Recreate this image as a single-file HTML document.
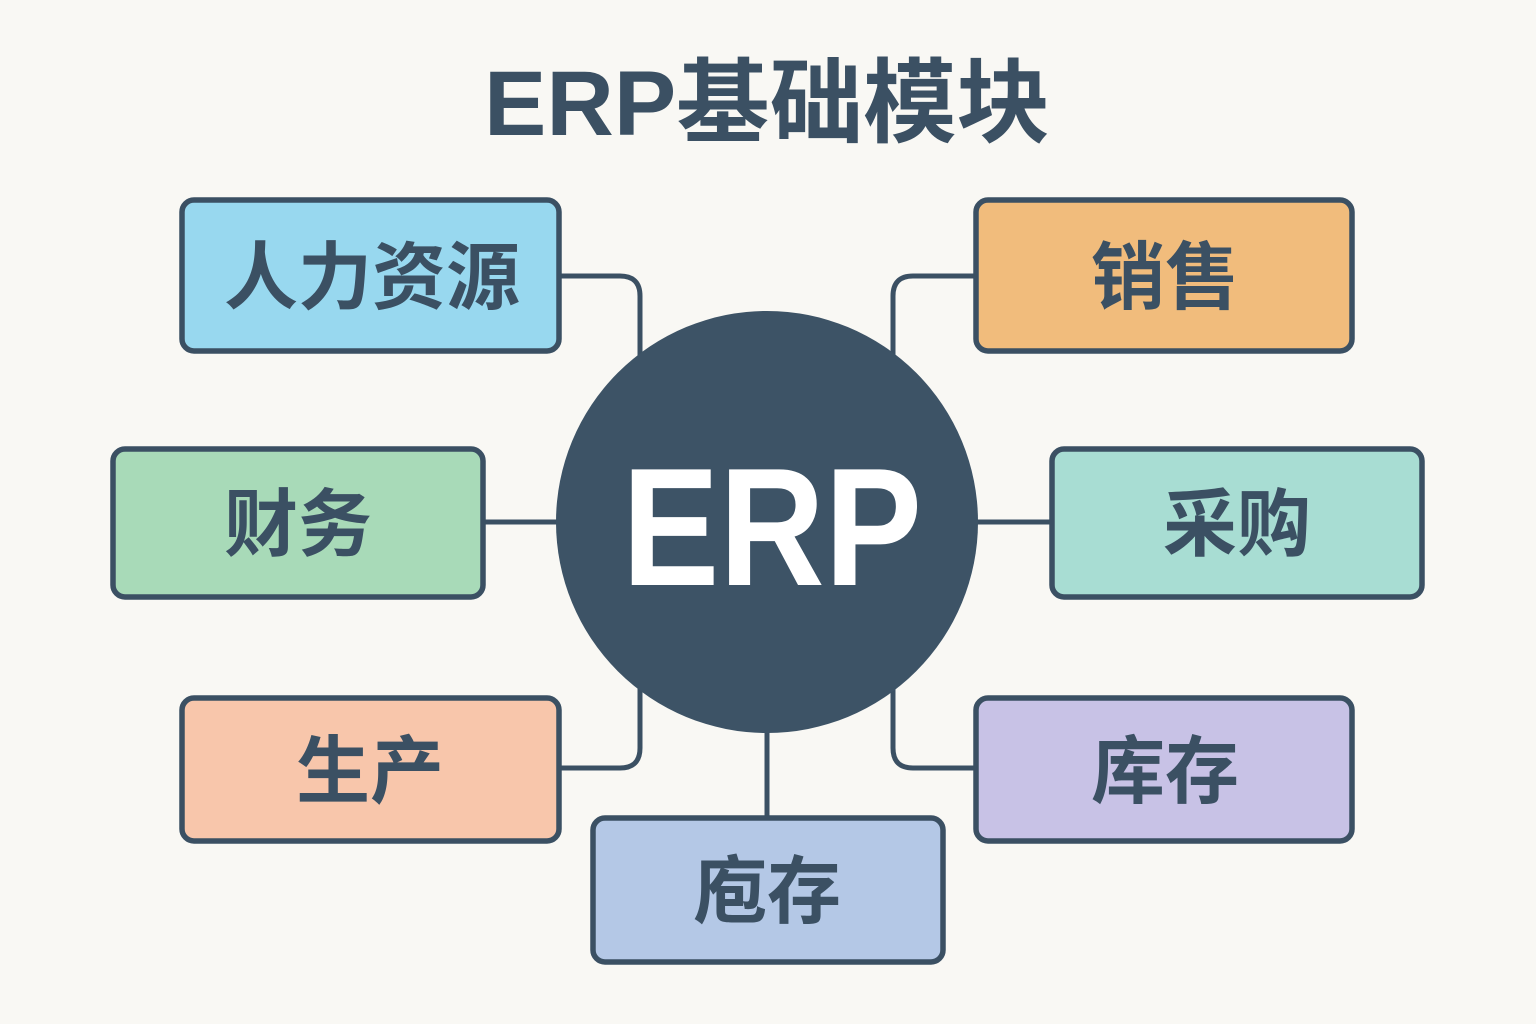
<!DOCTYPE html>
<html><head><meta charset="utf-8"><style>
html,body{margin:0;padding:0;background:#f9f8f4;}
svg{display:block}
text{font-family:"Liberation Sans","Noto Sans CJK SC",sans-serif;font-weight:bold;}
</style></head><body>
<svg width="1536" height="1024" viewBox="0 0 1536 1024" xmlns="http://www.w3.org/2000/svg">
<rect width="1536" height="1024" fill="#f9f8f4"/>
<text x="767" y="135" font-size="92" fill="#3b5063" text-anchor="middle" textLength="566" lengthAdjust="spacingAndGlyphs">ERP基础模块</text>
<g fill="none" stroke="#3b5063" stroke-width="5">
<path d="M560 276 H620 Q640 276 640 296 V360"/>
<path d="M975 276 H913 Q893 276 893 296 V360"/>
<path d="M484 522 H560"/>
<path d="M975 522 H1051"/>
<path d="M560 768 H620 Q640 768 640 748 V685"/>
<path d="M975 768 H913 Q893 768 893 748 V685"/>
<path d="M767 725 V818"/>
</g>
<circle cx="767" cy="522" r="211" fill="#3d5366"/>
<text x="772" y="585" font-size="168" fill="#ffffff" text-anchor="middle" textLength="300" lengthAdjust="spacingAndGlyphs">ERP</text>
<g stroke="#3b5063" stroke-width="5.5">
<rect x="182" y="200" width="377" height="151" rx="12" fill="#98d8ef"/>
<rect x="976" y="200" width="376" height="151" rx="12" fill="#f1bc7c"/>
<rect x="113" y="449" width="370" height="148" rx="12" fill="#a8dab8"/>
<rect x="1052" y="449" width="370" height="148" rx="12" fill="#a8ddd3"/>
<rect x="182" y="698" width="377" height="143" rx="12" fill="#f8c6ab"/>
<rect x="976" y="698" width="376" height="143" rx="12" fill="#c8c2e6"/>
<rect x="593" y="818" width="350" height="144" rx="12" fill="#b4c8e6"/>
</g>
<g font-size="74" fill="#3b5063" text-anchor="middle">
<text x="372" y="303">人力资源</text>
<text x="1165" y="303">销售</text>
<text x="298" y="550">财务</text>
<text x="1237" y="550">采购</text>
<text x="370" y="797">生产</text>
<text x="1165" y="797">库存</text>
<text x="767" y="917">庖存</text>
</g>
</svg>
</body></html>
